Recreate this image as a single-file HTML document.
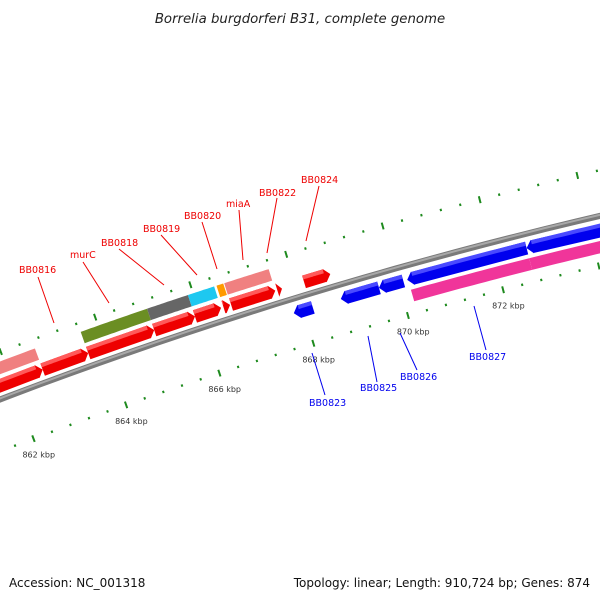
<!DOCTYPE html>
<html><head><meta charset="utf-8"><style>
html,body{margin:0;padding:0;background:#fff;width:600px;height:600px;overflow:hidden}
svg{display:block;font-family:"DejaVu Sans","Liberation Sans",sans-serif}
</style></head><body>
<svg id="map" width="600" height="600" viewBox="0 0 600 600">
<text x="300" y="23" text-anchor="middle" font-size="13.3" font-style="italic" fill="#222">Borrelia burgdorferi B31, complete genome</text>
<text x="9" y="587" font-size="12" fill="#111">Accession: NC_001318</text>
<text x="590" y="587" font-size="12" fill="#111" text-anchor="end">Topology: linear; Length: 910,724 bp; Genes: 874</text>
</svg>
<script>
// data (kbp)
const fwdStart = [860.5, 862.66, 863.63, 865.03, 865.89, 866.49, 866.65, 867.62, 868.18];
const fwdEnd   = [862.66, 863.63, 865.03, 865.89, 866.44, 866.63, 867.58, 867.72, 868.73];
const fwdCog   = ['#f08080', null, '#6b8e23', '#666666', '#1ec8f0', '#ff9a00', '#f08080', null, null];
const revStart = [867.80, 868.79, 869.59, 870.18, 872.67];
const revEnd   = [868.20, 869.59, 870.10, 872.67, 876.0];
const revCog   = [null, null, null, '#f0359a', '#f0359a'];
const tickLabels = [862, 864, 866, 868, 870, 872];
const fwdLabels = ['BB0816','murC','BB0818','BB0819','BB0820','miaA','BB0822','BB0824'];
const revLabels = ['BB0823','BB0825','BB0826','BB0827'];

const NS='http://www.w3.org/2000/svg';
const svg=document.getElementById('map');
const CX=1668, CY=4778;
function ang(k){return (-20.64+0.609*(k-862))*Math.PI/180;}
function P(k,r){const a=ang(k);return [CX+r*Math.sin(a), CY-r*Math.cos(a)];}
function mk(tag,attrs){const e=document.createElementNS(NS,tag);for(const k in attrs)e.setAttribute(k,attrs[k]);svg.appendChild(e);return e;}
function arcPath(k0,k1,r){let d='';const n=40;for(let i=0;i<=n;i++){const p=P(k0+(k1-k0)*i/n,r);d+=(i?'L':'M')+p[0].toFixed(1)+' '+p[1].toFixed(1);}return d;}

let bb=mk('path',{d:arcPath(855,880,4685.5),stroke:'#7a7a7a','stroke-width':6,fill:'none'});


let bb2=mk('path',{d:arcPath(855,880,4686.5),stroke:'#a8a8a8','stroke-width':2,fill:'none'});



function ticks(r,name){
  for(let k=856;k<=878.01;k+=0.4){
    const kk=Math.round(k*10)/10;
    const major=Math.abs(kk/2-Math.round(kk/2))<0.01;
    const h=major?3.5:1.2;
    const a=P(kk,r-h),b=P(kk,r+h);
    const t=mk('line',{x1:a[0],y1:a[1],x2:b[0],y2:b[1],stroke:'#1e8a1e','stroke-width':2});
    
    
  }
}
ticks(4637,'lower-tick');
ticks(4730,'upper-tick');
tickLabels.forEach(k=>{
  const p=P(k,4637);
  const t=mk('text',{x:p[0]-11,y:p[1]+19,'font-size':8,fill:'#333'});
  t.textContent=k+' kbp';
  
  
});

function poly(pts,fill,name){
  const e=mk('polygon',{points:pts.map(p=>p[0].toFixed(1)+','+p[1].toFixed(1)).join(' '),fill:fill});
  
  
  return e;
}
function band(k0,k1,r0,r1,fill,name){
  const pts=[];const n=20;
  for(let i=0;i<=n;i++)pts.push(P(k0+(k1-k0)*i/n,r0));
  for(let i=n;i>=0;i--)pts.push(P(k0+(k1-k0)*i/n,r1));
  return poly(pts,fill,name);
}
function gene(s,e,r0,r1,fwd,c,cl,name){
  const h=Math.min(0.12,(e-s));
  const rm=(r0+r1)/2;
  let pts;
  if(fwd){pts=[P(s,r0),P(e-h,r0),P(e-h,r0-0.5),P(e,rm),P(e-h,r1+0.5),P(e-h,r1),P(s,r1)];}
  else{pts=[P(e,r0),P(s+h,r0),P(s+h,r0-0.5),P(s,rm),P(s+h,r1+0.5),P(s+h,r1),P(e,r1)];}
  poly(pts,c,name);
  if(fwd) band(s,e-h,r1-4,r1,cl,name+'-shade');
  else band(s+h,e,r1-4,r1,cl,name+'-shade');
}
for(let i=0;i<fwdStart.length;i++){
  gene(fwdStart[i],fwdEnd[i],4692,4705,true,'#ee0000','#ff5a5a','forward-gene-'+i);
  if(fwdCog[i]) band(fwdStart[i],fwdEnd[i],4709,4721,fwdCog[i],'cog-forward-'+i);
}
for(let i=0;i<revStart.length;i++){
  gene(revStart[i],revEnd[i],4665,4678,false,'#0000ee','#4a4aff','reverse-gene-'+i);
  if(revCog[i]) band(revStart[i]+(i==3?0.02:0),revEnd[i],4649,4661,revCog[i],'cog-reverse-'+i);
}

const fl=[[19,273,38,277,54,323],[70,258,83,262,109,303],[101,246,119,249,164,285],[143,232,161,235,197,275],[184,219,202,222,217,269],[226,207,239,210,243,260],[259,196,277,198,267,253],[301,183,319,186,306,241]];
fl.forEach((f,i)=>{
  const l=mk('line',{x1:f[2],y1:f[3],x2:f[4],y2:f[5],stroke:'#ee0000','stroke-width':1});
  
  
  const t=mk('text',{x:f[0],y:f[1],'font-size':9.5,fill:'#ee0000'});
  t.textContent=fwdLabels[i];
  
  
});
const rl=[[309,406,312,353,325,395],[360,391,368,336,377,382],[400,380,400,333,417,370],[469,360,474,306,486,350]];
rl.forEach((f,i)=>{
  const l=mk('line',{x1:f[2],y1:f[3],x2:f[4],y2:f[5],stroke:'#0000ee','stroke-width':1});
  
  
  const t=mk('text',{x:f[0],y:f[1],'font-size':9.5,fill:'#0000ee'});
  t.textContent=revLabels[i];
  
  
});
</script>
</body></html>
